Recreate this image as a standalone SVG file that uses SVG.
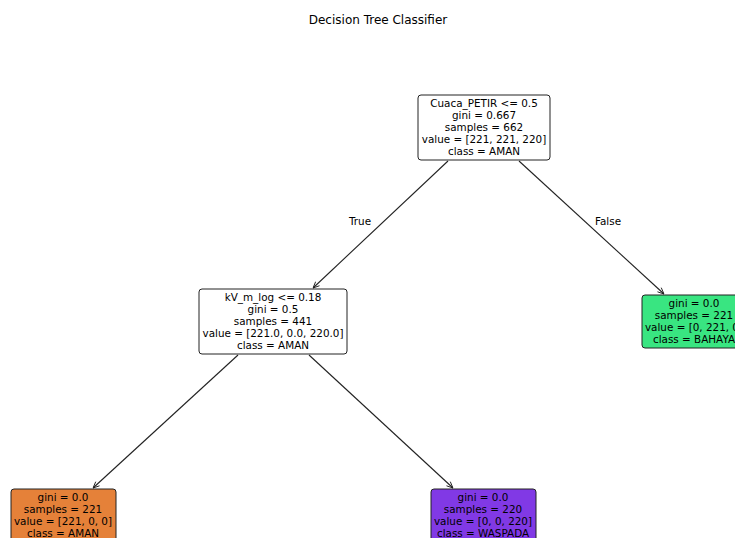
<svg xmlns="http://www.w3.org/2000/svg" width="735" height="538" viewBox="0 0 735 538">
<defs>
<marker id="arr" viewBox="0 0 10 10" refX="10" refY="5" markerWidth="7" markerHeight="7" orient="auto" markerUnits="userSpaceOnUse">
<path d="M1,1 L10,5 L1,9" fill="none" stroke="#222" stroke-width="1.3"/>
</marker>
<style>
text{font-family:"DejaVu Sans",sans-serif;font-size:10.4px;fill:#000;text-anchor:middle}
.title{font-size:12px}
.box{stroke:#222;stroke-width:1}
.edge{stroke:#222;stroke-width:1.1;fill:none;marker-end:url(#arr)}
</style>
</defs>
<rect width="735" height="538" fill="#fff"/>
<text class="title" x="378" y="24">Decision Tree Classifier</text>
<g id="connectors">
<line class="edge" x1="448" y1="161" x2="313" y2="288"/>
<line class="edge" x1="519" y1="161" x2="664" y2="294"/>
<line class="edge" x1="238" y1="355" x2="93" y2="488"/>
<line class="edge" x1="309" y1="355" x2="453" y2="488"/>
<text x="360" y="225">True</text>
<text x="608" y="225">False</text>
</g>
<g id="root">
<rect class="box" x="418" y="95" width="132" height="65" rx="3" fill="#fff"/>
<text x="484" y="107">Cuaca_PETIR &lt;= 0.5</text>
<text x="484" y="119">gini = 0.667</text>
<text x="484" y="131">samples = 662</text>
<text x="484" y="143">value = [221, 221, 220]</text>
<text x="484" y="155">class = AMAN</text>
</g>
<g id="kv">
<rect class="box" x="199" y="289" width="148" height="65" rx="3" fill="#fff"/>
<text x="273" y="301">kV_m_log &lt;= 0.18</text>
<text x="273" y="313">gini = 0.5</text>
<text x="273" y="325">samples = 441</text>
<text x="273" y="337">value = [221.0, 0.0, 220.0]</text>
<text x="273" y="349">class = AMAN</text>
</g>
<g id="bahaya">
<rect class="box" x="642" y="295" width="105" height="53" rx="3" fill="#39e581"/>
<text x="694" y="307">gini = 0.0</text>
<text x="694" y="319">samples = 221</text>
<text x="694" y="331">value = [0, 221, 0]</text>
<text x="694" y="343">class = BAHAYA</text>
</g>
<g id="aman">
<rect class="box" x="11" y="489" width="105" height="53" rx="3" fill="#e58139"/>
<text x="63" y="501">gini = 0.0</text>
<text x="63" y="513">samples = 221</text>
<text x="63" y="525">value = [221, 0, 0]</text>
<text x="63" y="537">class = AMAN</text>
</g>
<g id="waspada">
<rect class="box" x="431" y="489" width="105" height="53" rx="3" fill="#8139e5"/>
<text x="483" y="501">gini = 0.0</text>
<text x="483" y="513">samples = 220</text>
<text x="483" y="525">value = [0, 0, 220]</text>
<text x="483" y="537">class = WASPADA</text>
</g>
</svg>
